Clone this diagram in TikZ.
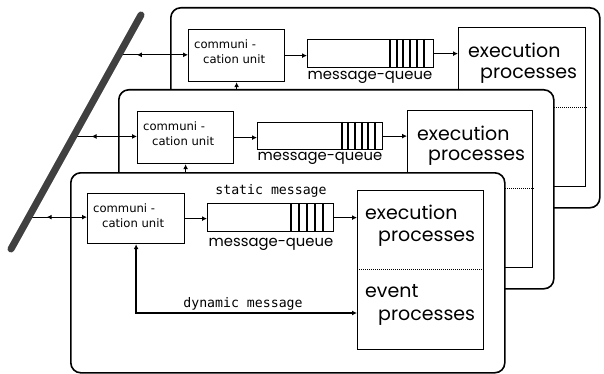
\documentclass[tikz,border=0pt]{standalone}
\usepackage{fontspec}
\setmainfont{Poppins}
\newfontfamily\commfont{DejaVu Sans}
\newfontfamily\msgfont{DejaVu Sans Mono}
\usetikzlibrary{arrows.meta,decorations.markings,calc}
\tikzset{
  panel/.style={draw, line width=1.6pt, fill=white, rounded corners=10pt, inner sep=0pt, anchor=north west},
  box/.style={draw, line width=1.2pt, fill=white, inner sep=0pt, anchor=north west},
  arr/.style={line width=1pt, -{Latex[length=5pt,width=5pt]}},
  biarr/.style={line width=1pt, -{Latex[length=5pt,width=5pt]}, postaction={decorate},
    decoration={markings, mark=at position 18pt with {\arrowreversed{Latex[length=5pt,width=5pt]}}}},
  divider/.style={line width=1pt, densely dotted},
  bar/.style={line width=1.1pt},
  commtxt/.style={font=\commfont\fontsize{11.6}{14}\selectfont, anchor=west, inner sep=0pt},
  msgtxt/.style={font=\msgfont\fontsize{13.2}{15}\selectfont, inner sep=0pt},
  qtxt/.style={font=\fontsize{14.8}{17}\selectfont, inner sep=0pt},
  ptxt/.style={font=\fontsize{19}{21}\selectfont, anchor=west, inner sep=0pt},
}
\begin{document}
\begin{tikzpicture}[x=1pt,y=-1pt]
\useasboundingbox (0,0) rectangle (604,374);
\coordinate (dg1) at (141,15);
\coordinate (dg2) at (11,249);

% ---------------- back panel ----------------
\node[panel, minimum width=429pt, minimum height=200pt] (p1) at (170,7) {};
\node[box, minimum width=96pt, minimum height=52pt] (c1) at (188,29) {};
\node[commtxt] (c1a) at ($(c1.north west)+(6,15)$) {communi -};
\node[commtxt] (c1b) at ($(c1.north west)+(15,30)$) {cation unit};
\node[box, minimum width=126pt, minimum height=28pt] (q1) at (307,39) {};
\foreach \x in {390,397,403,410,417,424} \draw[bar] (\x,39) -- (\x,67);
\node[qtxt] (q1l) at (370,77) {message-queue};
\node[box, minimum width=127pt, minimum height=159pt] (e1) at (458,27) {};
\coordinate (e1d) at (458,108);
\draw[divider] (e1d) -- (e1d -| e1.east);
\node[ptxt] (e1a) at (468,50) {execution};
\node[ptxt] (e1b) at (480,76) {processes};
\draw[arr] (c1.east) -- (c1.east -| q1.west);
\draw[arr] (q1.east) -- (q1.east -| e1.west);
\coordinate (l1) at ($(dg1)!0.1702!(dg2)$);
\draw[biarr] (l1) -- (l1 -| c1.west);

% ---------------- middle panel ----------------
\node[panel, minimum width=435pt, minimum height=199pt] (p2) at (118,89) {};
\draw[arr] (c1.south |- p2.north) -- (c1.south);
\node[box, minimum width=96pt, minimum height=52pt] (c2) at (137,111) {};
\node[commtxt] (c2a) at ($(c2.north west)+(6,15)$) {communi -};
\node[commtxt] (c2b) at ($(c2.north west)+(15,30)$) {cation unit};
\node[box, minimum width=125pt, minimum height=27pt] (q2) at (257,122) {};
\foreach \x in {342,348,355,362,368,375} \draw[bar] (\x,122) -- (\x,149);
\node[qtxt] (q2l) at (320,158) {message-queue};
\node[box, minimum width=125pt, minimum height=157pt] (e2) at (407,110) {};
\coordinate (e2d) at (407,188);
\draw[divider] (e2d) -- (e2d -| e2.east);
\node[ptxt] (e2a) at (417,133) {execution};
\node[ptxt] (e2b) at (428,158) {processes};
\draw[arr] (c2.east) -- (c2.east -| q2.west);
\draw[arr] (q2.east) -- (q2.east -| e2.west);
\coordinate (l2) at ($(dg1)!0.519!(dg2)$);
\draw[biarr] (l2) -- (l2 -| c2.west);

% ---------------- front panel ----------------
\node[panel, minimum width=434pt, minimum height=200pt] (p3) at (70,172) {};
\draw[arr] (c2.south |- p3.north) -- (c2.south);
\node[box, minimum width=97pt, minimum height=50pt] (c3) at (87,193) {};
\node[commtxt] (c3a) at ($(c3.north west)+(6,15)$) {communi -};
\node[commtxt] (c3b) at ($(c3.north west)+(15,30)$) {cation unit};
\node[box, minimum width=126pt, minimum height=28pt] (q3) at (207,203) {};
\foreach \x in {291,299,307,315,323} \draw[bar] (\x,203) -- (\x,231);
\node[qtxt] (q3l) at (271,244) {message-queue};
\node[msgtxt] (stat) at (271,191) {static message};
\node[box, minimum width=126pt, minimum height=159pt] (e3) at (357,190) {};
\coordinate (e3d) at (357,269);
\draw[divider] (e3d) -- (e3d -| e3.east);
\node[ptxt] (e3a) at (365,212) {execution};
\node[ptxt] (e3b) at (378,239) {processes};
\node[ptxt] (e3c) at (365,291) {event};
\node[ptxt] (e3d2) at (378,318) {processes};
\draw[arr] (c3.east) -- (c3.east -| q3.west);
\draw[arr] (q3.east) -- (q3.east -| e3.west);
\coordinate (ev) at (357,313);
\draw[line width=1.4pt, {Latex[length=5pt,width=5pt]}-{Latex[length=5pt,width=5pt]}] (c3.south) |- (ev);
\node[msgtxt] (dyn) at (243,304) {dynamic message};
\coordinate (l3) at ($(dg1)!0.8638!(dg2)$);
\draw[biarr] (l3) -- (l3 -| c3.west);

% ---------------- diagonal line ----------------
\draw[line width=7pt, black!75, line cap=round] (dg1) -- (dg2);
\end{tikzpicture}
\end{document}
